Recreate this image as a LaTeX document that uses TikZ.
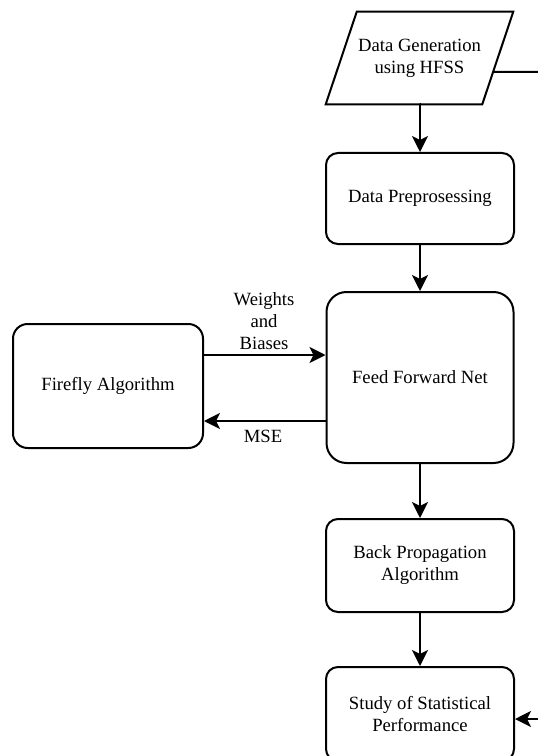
\documentclass[tikz,border=0pt]{standalone}
\usepackage{fontspec}
\setmainfont{Liberation Serif}
\usetikzlibrary{arrows.meta,calc}
\begin{document}
\begin{tikzpicture}[x=0.75pt,y=-0.75pt,
  box/.style={draw, line width=1.5pt, rounded corners=9pt, align=center, inner sep=0pt,
    font=\fontsize{14}{16.5}\selectfont},
  lab/.style={align=center, inner sep=0pt, font=\fontsize{14}{16.5}\selectfont},
  conn/.style={line width=1.5pt, -{Stealth[length=12pt,width=12pt,inset=3pt]}},
  plain/.style={line width=1.5pt}]
\useasboundingbox (0,0) rectangle (538,756);
\clip (0,0) rectangle (538,756);
% parallelogram
\node (gen) [lab, minimum width=140.25pt, minimum height=69pt] at (419.5,58) {Data Generation\\using HFSS};
\draw[line width=1.5pt, line join=miter]
  (gen.south west) -- ($(gen.north west)+(31,0)$) -- (gen.north east) -- ($(gen.south east)+(-31,0)$) -- cycle;
\coordinate (genR) at ($(gen.north east)!0.65!($(gen.south east)+(-31,0)$)$);
\coordinate (outR) at (560,72);
% boxes
\node (prep) [box, minimum width=141pt, minimum height=68.25pt] at (420,198.5) {Data Preprosessing};
\node (ffn) [box, rounded corners=15pt, minimum width=140.25pt, minimum height=128.25pt] at (420,377.5) {Feed Forward Net};
\node (fa) [box, rounded corners=11pt, minimum width=142.5pt, minimum height=93pt] at (108,386) {Firefly Algorithm};
\node (bp) [box, minimum width=141pt, minimum height=69.75pt] at (420,565.5) {Back Propagation\\Algorithm};
\node (st) [box, minimum width=141pt, minimum height=70.5pt] at (420,714) {Study of Statistical\\Performance};
\coordinate (inR) at (560,719);
% labels
\node (wlab) [lab] at (264,321) {Weights\\and\\Biases};
\node (mlab) [lab] at (263,436) {MSE};
% connectors
\draw[conn] (gen.south) -- (gen.south -| prep.north) -- (prep.north);
\draw[conn] (prep.south) -- (ffn.north);
\draw[conn] (ffn.south) -- (bp.north);
\draw[conn] (bp.south) -- (st.north);
\draw[plain] (genR) -- (outR);
\draw[conn] (inR) -- (st.east |- inR);
\draw[conn] (fa.east |- 0,355) -- (ffn.west |- 0,355);
\draw[conn] (ffn.west |- 0,421) -- (fa.east |- 0,421);
\end{tikzpicture}
\end{document}
